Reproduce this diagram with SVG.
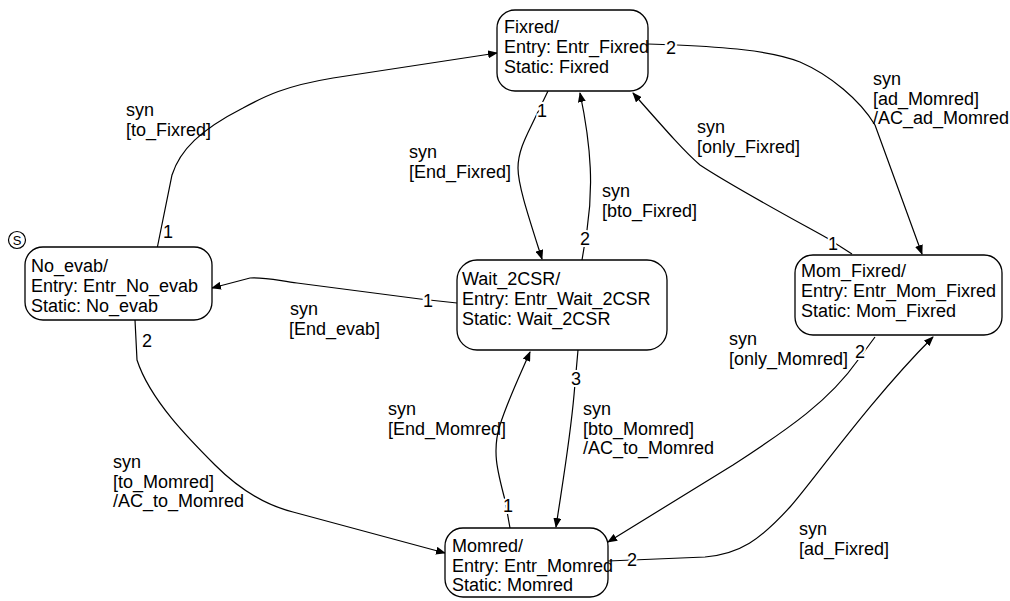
<svg xmlns="http://www.w3.org/2000/svg" width="1010" height="601" viewBox="0 0 1010 601">
<defs>
<marker id="ah" markerWidth="10" markerHeight="8" refX="9" refY="4" orient="auto" markerUnits="userSpaceOnUse">
<path d="M0,0 L10,4 L0,8 Z" fill="#000"/>
</marker>
<style>
text{font-family:"Liberation Sans",Arial,sans-serif;font-size:18px;fill:#000}
.box{fill:#fff;stroke:#000;stroke-width:1.3}
.c{fill:none;stroke:#000;stroke-width:1.2;marker-end:url(#ah)}
.n{stroke:#fff;stroke-width:4;paint-order:stroke}
</style>
</defs>
<rect width="1010" height="601" fill="#fff"/>
<g id="connectors">
<path class="c" d="M157,249 L172,175 C180,150 200,130 243,108 C265,96 285,86 333,78 L497,53"/>
<path class="c" d="M648,44 L677,45 C720,47 770,50 800,62 C830,75 860,100 875,125 L922,254"/>
<path class="c" d="M852,254 L827,238 C780,212 730,185 700,165 C685,152 670,135 633,93"/>
<path class="c" d="M548,91 L535,118 C527,135 518,150 518,168 C518,185 528,215 542,259"/>
<path class="c" d="M582,260 L587,230 C593,190 592,150 580,93"/>
<path class="c" d="M457,303 L420,299 L297,283 C280,281 265,277 250,278 L212,288"/>
<path class="c" d="M135,320 L137,360 C150,400 190,440 215,465 C240,490 265,505 293,512 L445,553"/>
<path class="c" d="M510,528 L505,500 C497,470 492,450 500,425 C508,400 520,375 530,352"/>
<path class="c" d="M578,350 L574,395 C570,440 563,480 556,527"/>
<path class="c" d="M875,337 L858,360 C830,400 790,428 733,465 L608,542"/>
<path class="c" d="M608,561 L705,557 C740,554 760,540 790,507 C810,485 870,400 933,337"/>
<text class="n" x="163" y="238">1</text>
<text class="n" x="666" y="54">2</text>
<text class="n" x="828" y="250">1</text>
<text class="n" x="537" y="117">1</text>
<text class="n" x="580" y="245">2</text>
<text class="n" x="423" y="307">1</text>
<text class="n" x="142" y="347">2</text>
<text class="n" x="503" y="512">1</text>
<text class="n" x="571" y="385">3</text>
<text class="n" x="855" y="358">2</text>
<text class="n" x="627" y="566">2</text>
<text x="126" y="116">syn</text><text x="126" y="136">[to_Fixred]</text>
<text x="873" y="85">syn</text><text x="873" y="105">[ad_Momred]</text><text x="873" y="124">/AC_ad_Momred</text>
<text x="697" y="133">syn</text><text x="697" y="153">[only_Fixred]</text>
<text x="409" y="158">syn</text><text x="409" y="178">[End_Fixred]</text>
<text x="602" y="197">syn</text><text x="602" y="217">[bto_Fixred]</text>
<text x="290" y="315">syn</text><text x="289" y="335">[End_evab]</text>
<text x="113" y="468">syn</text><text x="113" y="488">[to_Momred]</text><text x="113" y="507">/AC_to_Momred</text>
<text x="388" y="415">syn</text><text x="388" y="435">[End_Momred]</text>
<text x="583" y="415">syn</text><text x="583" y="435">[bto_Momred]</text><text x="583" y="454">/AC_to_Momred</text>
<text x="729" y="345">syn</text><text x="729" y="365">[only_Momred]</text>
<text x="799" y="535">syn</text><text x="799" y="555">[ad_Fixred]</text>
</g>
<g id="initial">
<circle cx="17" cy="240" r="8.5" fill="#fff" stroke="#000" stroke-width="1.2"/>
<text x="17" y="245" text-anchor="middle" style="font-size:13px">S</text>
</g>
<g id="No_evab">
<rect class="box" x="25" y="247" width="187" height="73" rx="18"/>
<text x="31" y="272">No_evab/</text><text x="31" y="292">Entry: Entr_No_evab</text><text x="31" y="312">Static: No_evab</text>
</g>
<g id="Fixred">
<rect class="box" x="497" y="10" width="151" height="81" rx="18"/>
<text x="504" y="33">Fixred/</text><text x="504" y="53">Entry: Entr_Fixred</text><text x="504" y="73">Static: Fixred</text>
</g>
<g id="Wait_2CSR">
<rect class="box" x="457" y="260" width="210" height="90" rx="20"/>
<text x="462" y="285">Wait_2CSR/</text><text x="462" y="305">Entry: Entr_Wait_2CSR</text><text x="462" y="325">Static: Wait_2CSR</text>
</g>
<g id="Mom_Fixred">
<rect class="box" x="795" y="255" width="207" height="80" rx="18"/>
<text x="801" y="277">Mom_Fixred/</text><text x="801" y="297">Entry: Entr_Mom_Fixred</text><text x="801" y="317">Static: Mom_Fixred</text>
</g>
<g id="Momred">
<rect class="box" x="445" y="528" width="163" height="69" rx="18"/>
<text x="452" y="552">Momred/</text><text x="452" y="572">Entry: Entr_Momred</text><text x="452" y="591">Static: Momred</text>
</g>
</svg>
